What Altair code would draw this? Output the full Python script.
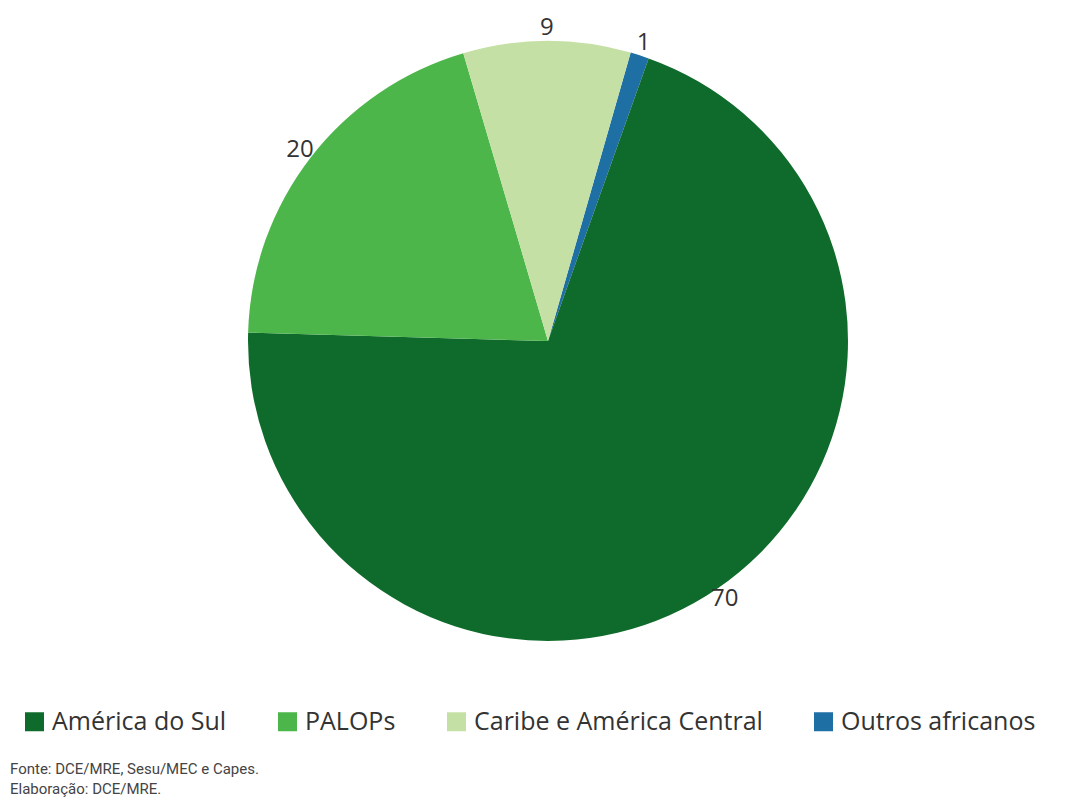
import altair as alt
import pandas as pd
import math

categorias = ["Outros africanos", "América do Sul", "PALOPs", "Caribe e América Central"]
valores = [1, 70, 20, 9]
ordem = [1, 2, 3, 4]
legenda_ordem = ["América do Sul", "PALOPs", "Caribe e América Central", "Outros africanos"]
cores = ["#0F6B2B", "#4CB64A", "#C5E0A5", "#1E6FA4"]
nota_fonte = ["Fonte: DCE/MRE, Sesu/MEC e Capes."]
nota_elab = ["Elaboração: DCE/MRE."]

df = pd.DataFrame({"regiao": categorias, "valor": valores, "ordem": ordem})

inicio = math.radians(16)
cx, cy = 540, 333

base = alt.Chart(df).encode(
    theta=alt.Theta("valor:Q", stack=True,
                    scale=alt.Scale(range=[inicio, inicio + 2 * math.pi])),
    order=alt.Order("ordem:Q"),
)

fatias = base.mark_arc(outerRadius=300, stroke=None).encode(
    x=alt.value(cx), y=alt.value(cy),
    color=alt.Color("regiao:N",
                    scale=alt.Scale(domain=legenda_ordem, range=cores),
                    sort=legenda_ordem,
                    legend=alt.Legend(
                        title=None, orient="none", direction="horizontal",
                        legendX=14, legendY=701,
                        symbolType="square", symbolSize=361, symbolStrokeWidth=0,
                        labelFontSize=25, labelFont="Open Sans", labelColor="#333333",
                        labelOffset=5, columnPadding=48, labelLimit=500,
                    )),
)

rotulos = base.mark_text(radius=313, fontSize=24, font="Open Sans",
                         color="#333333").encode(
    x=alt.value(cx), y=alt.value(cy),
    text=alt.Text("valor:Q"),
)

estilo_nota = dict(align="left", baseline="alphabetic", fontSize=15,
                   font="'Liberation Sans Narrow', 'Roboto', sans-serif",
                   color="#444444")

fonte = alt.Chart(pd.DataFrame({"nota": nota_fonte})).mark_text(**estilo_nota).encode(
    x=alt.value(2), y=alt.value(766), text="nota:N")
elab = alt.Chart(pd.DataFrame({"nota": nota_elab})).mark_text(**estilo_nota).encode(
    x=alt.value(2), y=alt.value(786), text="nota:N")

chart = alt.layer(fatias, rotulos, fonte, elab).properties(
    width=1049, height=795,
    autosize=alt.AutoSizeParams(type="none"),
    padding=0,
).configure_view(stroke=None)

chart.save("out.html", embed_options={"renderer": "svg", "actions": False})
